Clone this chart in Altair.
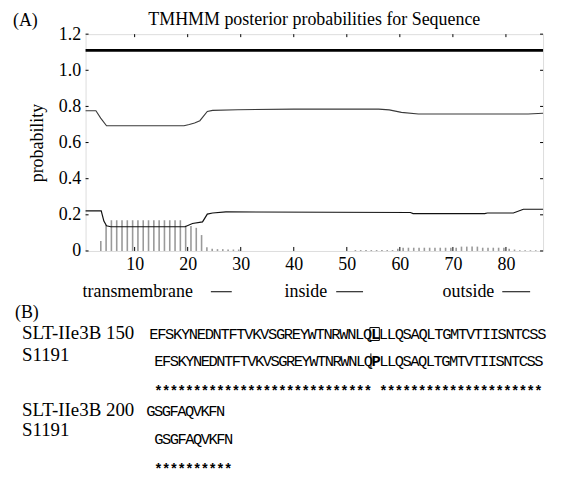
import altair as alt
import pandas as pd

# ---------------- data ----------------
title_text = "TMHMM posterior probabilities for Sequence"
x_ticks = [10, 20, 30, 40, 50, 60, 70, 80]
y_ticks = [0, 0.2, 0.4, 0.6, 0.8, 1.0, 1.2]

topology_level = [1.11]

upper_x = [0.75, 2.7, 3.6, 4.7, 10, 19.3, 20.3, 21.3, 22.3, 23.7, 24.7, 29.4, 40, 56, 58, 60.3, 63.5, 75, 84.2, 87]
upper_y = [0.776, 0.776, 0.735, 0.693, 0.693, 0.693, 0.700, 0.708, 0.721, 0.772, 0.778, 0.782, 0.785, 0.785, 0.781, 0.767, 0.758, 0.758, 0.758, 0.762]

lower_x = [0.75, 3.7, 4.2, 4.7, 5.5, 19.5, 20.9, 22.8, 23.7, 24.7, 27.2, 62, 62.5, 76, 76.5, 81.4, 83.3, 87]
lower_y = [0.222, 0.222, 0.165, 0.139, 0.134, 0.134, 0.152, 0.161, 0.204, 0.210, 0.216, 0.213, 0.207, 0.207, 0.210, 0.210, 0.231, 0.231]

bar_residue = list(range(4, 87))
bar_prob = ([0.055, 0.143] + [0.17] * 14 + [0.14, 0.138, 0.128, 0.088, 0.02, 0.012, 0.01, 0.01, 0.008, 0.008, 0.008]
            + [0.0] * 21 + [0.005] * 8 + [0.012] + [0.018] * 11 + [0.024] * 4 + [0.018] * 5
            + [0.012, 0.008] + [0.004] * 4)

legend_names = ["transmembrane", "inside", "outside"]

seq_a1 = "EFSKYNEDNTFTVKVSGREYWTNRWNLQLLLQSAQLTGMTVTIISNTCSS"
seq_b1 = "EFSKYNEDNTFTVKVSGREYWTNRWNLQPLLQSAQLTGMTVTIISNTCSS"
seq_a2 = "GSGFAQVKFN"
seq_b2 = "GSGFAQVKFN"
name_a = "SLT-IIe3B"
name_b = "S1191"
start_a = [150, 200]

# ---------------- layout ----------------
W, H = 460, 218
SERIF = "Liberation Serif"
MONO = "Liberation Mono"

bars_df = pd.DataFrame({"residue": bar_residue, "prob": bar_prob})
upper_df = pd.DataFrame({"pos": upper_x, "p": upper_y})
lower_df = pd.DataFrame({"pos": lower_x, "p": lower_y})

xscale = alt.Scale(domain=[0.75, 87], nice=False, zero=False)
yscale = alt.Scale(domain=[0, 1.2], nice=False)

x_axis = alt.Axis(values=x_ticks, tickSize=0, domain=False, grid=False, labelFont=SERIF,
                  labelFontSize=18, labelColor="black", labelPadding=5, labelOverlap=False,
                  title=None)
y_axis = alt.Axis(values=y_ticks, tickSize=0, domain=False, grid=False, labelFont=SERIF,
                  labelFontSize=18, labelColor="black", labelPadding=5, labelOverlap=False,
                  labelExpr="datum.value == 0 ? '0' : format(datum.value, '.1f')",
                  title="probability", titleFont=SERIF, titleFontSize=18,
                  titleFontWeight="normal", titleColor="black", titlePadding=12)


def X(field):
    return alt.X(field, scale=xscale, axis=x_axis, title=None)


def Y(field):
    return alt.Y(field, scale=yscale, axis=y_axis, title="probability")


bars = alt.Chart(bars_df).transform_calculate(xp="datum.residue - 0.38").mark_rule(
    color="#9a9a9a", strokeWidth=1.6
).encode(x=X("xp:Q"), y=Y("prob:Q"), y2=alt.datum(0))

upper = alt.Chart(upper_df).mark_line(color="#3a3a3a", strokeWidth=1.1).encode(
    x=X("pos:Q"), y=Y("p:Q"))
lower = alt.Chart(lower_df).mark_line(color="#111111", strokeWidth=1.2).encode(
    x=X("pos:Q"), y=Y("p:Q"))

topo = alt.Chart(pd.DataFrame({"lvl": topology_level})).mark_rule(color="black", strokeWidth=2.6).encode(
    y=Y("lvl:Q"))

xt = pd.DataFrame({"v": x_ticks})
yt = pd.DataFrame({"v": y_ticks})
tick_bottom = alt.Chart(xt).mark_rule(color="black").encode(
    x=X("v:Q"), y=alt.value(H), y2=alt.value(H - 4))
tick_top = alt.Chart(xt).mark_rule(color="black").encode(
    x=X("v:Q"), y=alt.value(0), y2=alt.value(3))
tick_left = alt.Chart(yt).mark_rule(color="black").encode(
    y=Y("v:Q"), x=alt.value(0), x2=alt.value(3))
tick_right = alt.Chart(yt).mark_rule(color="black").encode(
    y=Y("v:Q"), x=alt.value(W), x2=alt.value(W - 3))


def label(text, x, y, size=18, align="left", font=SERIF):
    return alt.Chart(pd.DataFrame({"t": [text]})).mark_text(
        font=font, fontSize=size, align=align, baseline="alphabetic", color="black"
    ).encode(x=alt.value(x), y=alt.value(y), text="t:N")


def seq_row(s, x0, step, y, size=15.5, bold_idx=None, weight="normal"):
    df = pd.DataFrame({"i": list(range(len(s))), "ch": list(s)})
    base = alt.Chart(df).transform_calculate(px=f"{x0} + datum.i * {step}")
    enc = dict(x=alt.X("px:Q", scale=None, axis=None), y=alt.value(y), text="ch:N")
    if bold_idx is None:
        return [base.mark_text(font=MONO, fontSize=size, align="left", baseline="alphabetic",
                               color="black", fontWeight=weight).encode(**enc)]
    normal = base.transform_filter(f"datum.i != {bold_idx}").mark_text(
        font=MONO, fontSize=size, align="left", baseline="alphabetic", color="black").encode(**enc)
    bold = base.transform_filter(f"datum.i == {bold_idx}").mark_text(
        font=MONO, fontSize=size, align="left", baseline="alphabetic", color="black",
        fontWeight="bold").encode(**enc)
    return [normal, bold]


def stars(a, b):
    return "".join("*" if p == q else " " for p, q in zip(a, b))


diff_idx = [i for i, (p, q) in enumerate(zip(seq_a1, seq_b1)) if p != q][0]

layers = [bars, upper, lower, topo, tick_bottom, tick_top, tick_left, tick_right]

# title and panel tags
layers.append(label(title_text, W / 2, -9, size=18, align="center"))
layers.append(label("(A)", -73, -8, size=18))
layers.append(label("(B)", -71, 285, size=18))

# legend row
leg_x = [-3, 200, 359]
leg_dash = [(126, 147), (252, 279), (419, 447)]
for name, lx, (d0, d1) in zip(legend_names, leg_x, leg_dash):
    layers.append(label(name, lx, 264, size=18))
    layers.append(alt.Chart(pd.DataFrame({"n": [name]})).mark_rule(color="black", strokeWidth=1).encode(
        x=alt.value(d0), x2=alt.value(d1), y=alt.value(259)))

# alignment block 1
layers.append(label(f"{name_a} {start_a[0]}", -64, 307, size=19))
layers.append(label(name_b, -64, 329, size=19))
layers += seq_row(seq_a1, 64, 7.96, 307, bold_idx=diff_idx)
layers += seq_row(seq_b1, 69, 7.8, 334, bold_idx=diff_idx)
layers += seq_row(stars(seq_a1, seq_b1), 69, 7.8, 364, size=14, weight="bold")

# alignment block 2
layers.append(label(f"{name_a} {start_a[1]}", -64, 384, size=19))
layers.append(label(name_b, -64, 404, size=19))
layers += seq_row(seq_a2, 61, 7.8, 384)
layers += seq_row(seq_b2, 69, 7.8, 412)
layers += seq_row(stars(seq_a2, seq_b2), 69, 7.8, 442, size=14, weight="bold")

# highlight marks around the differing residue
bx = 64 + diff_idx * 7.96
layers.append(alt.Chart(pd.DataFrame({"n": [1]})).mark_rect(filled=False, stroke="black", strokeWidth=1).encode(
    x=alt.value(bx - 1), x2=alt.value(bx + 8.5), y=alt.value(295), y2=alt.value(308)))
px2 = 69 + diff_idx * 7.8
layers.append(alt.Chart(pd.DataFrame({"n": [1]})).mark_rule(color="black", strokeWidth=1).encode(
    x=alt.value(px2 - 0.5), y=alt.value(321), y2=alt.value(336)))

chart = alt.layer(*layers).properties(
    width=W, height=H,
    autosize=alt.AutoSizeParams(type="none"),
    padding={"left": 78, "top": 25, "right": 10, "bottom": 228},
).configure_view(stroke="black", strokeWidth=1).configure(background="white")

chart.save("out.html", embed_options={"renderer": "svg", "actions": False})
